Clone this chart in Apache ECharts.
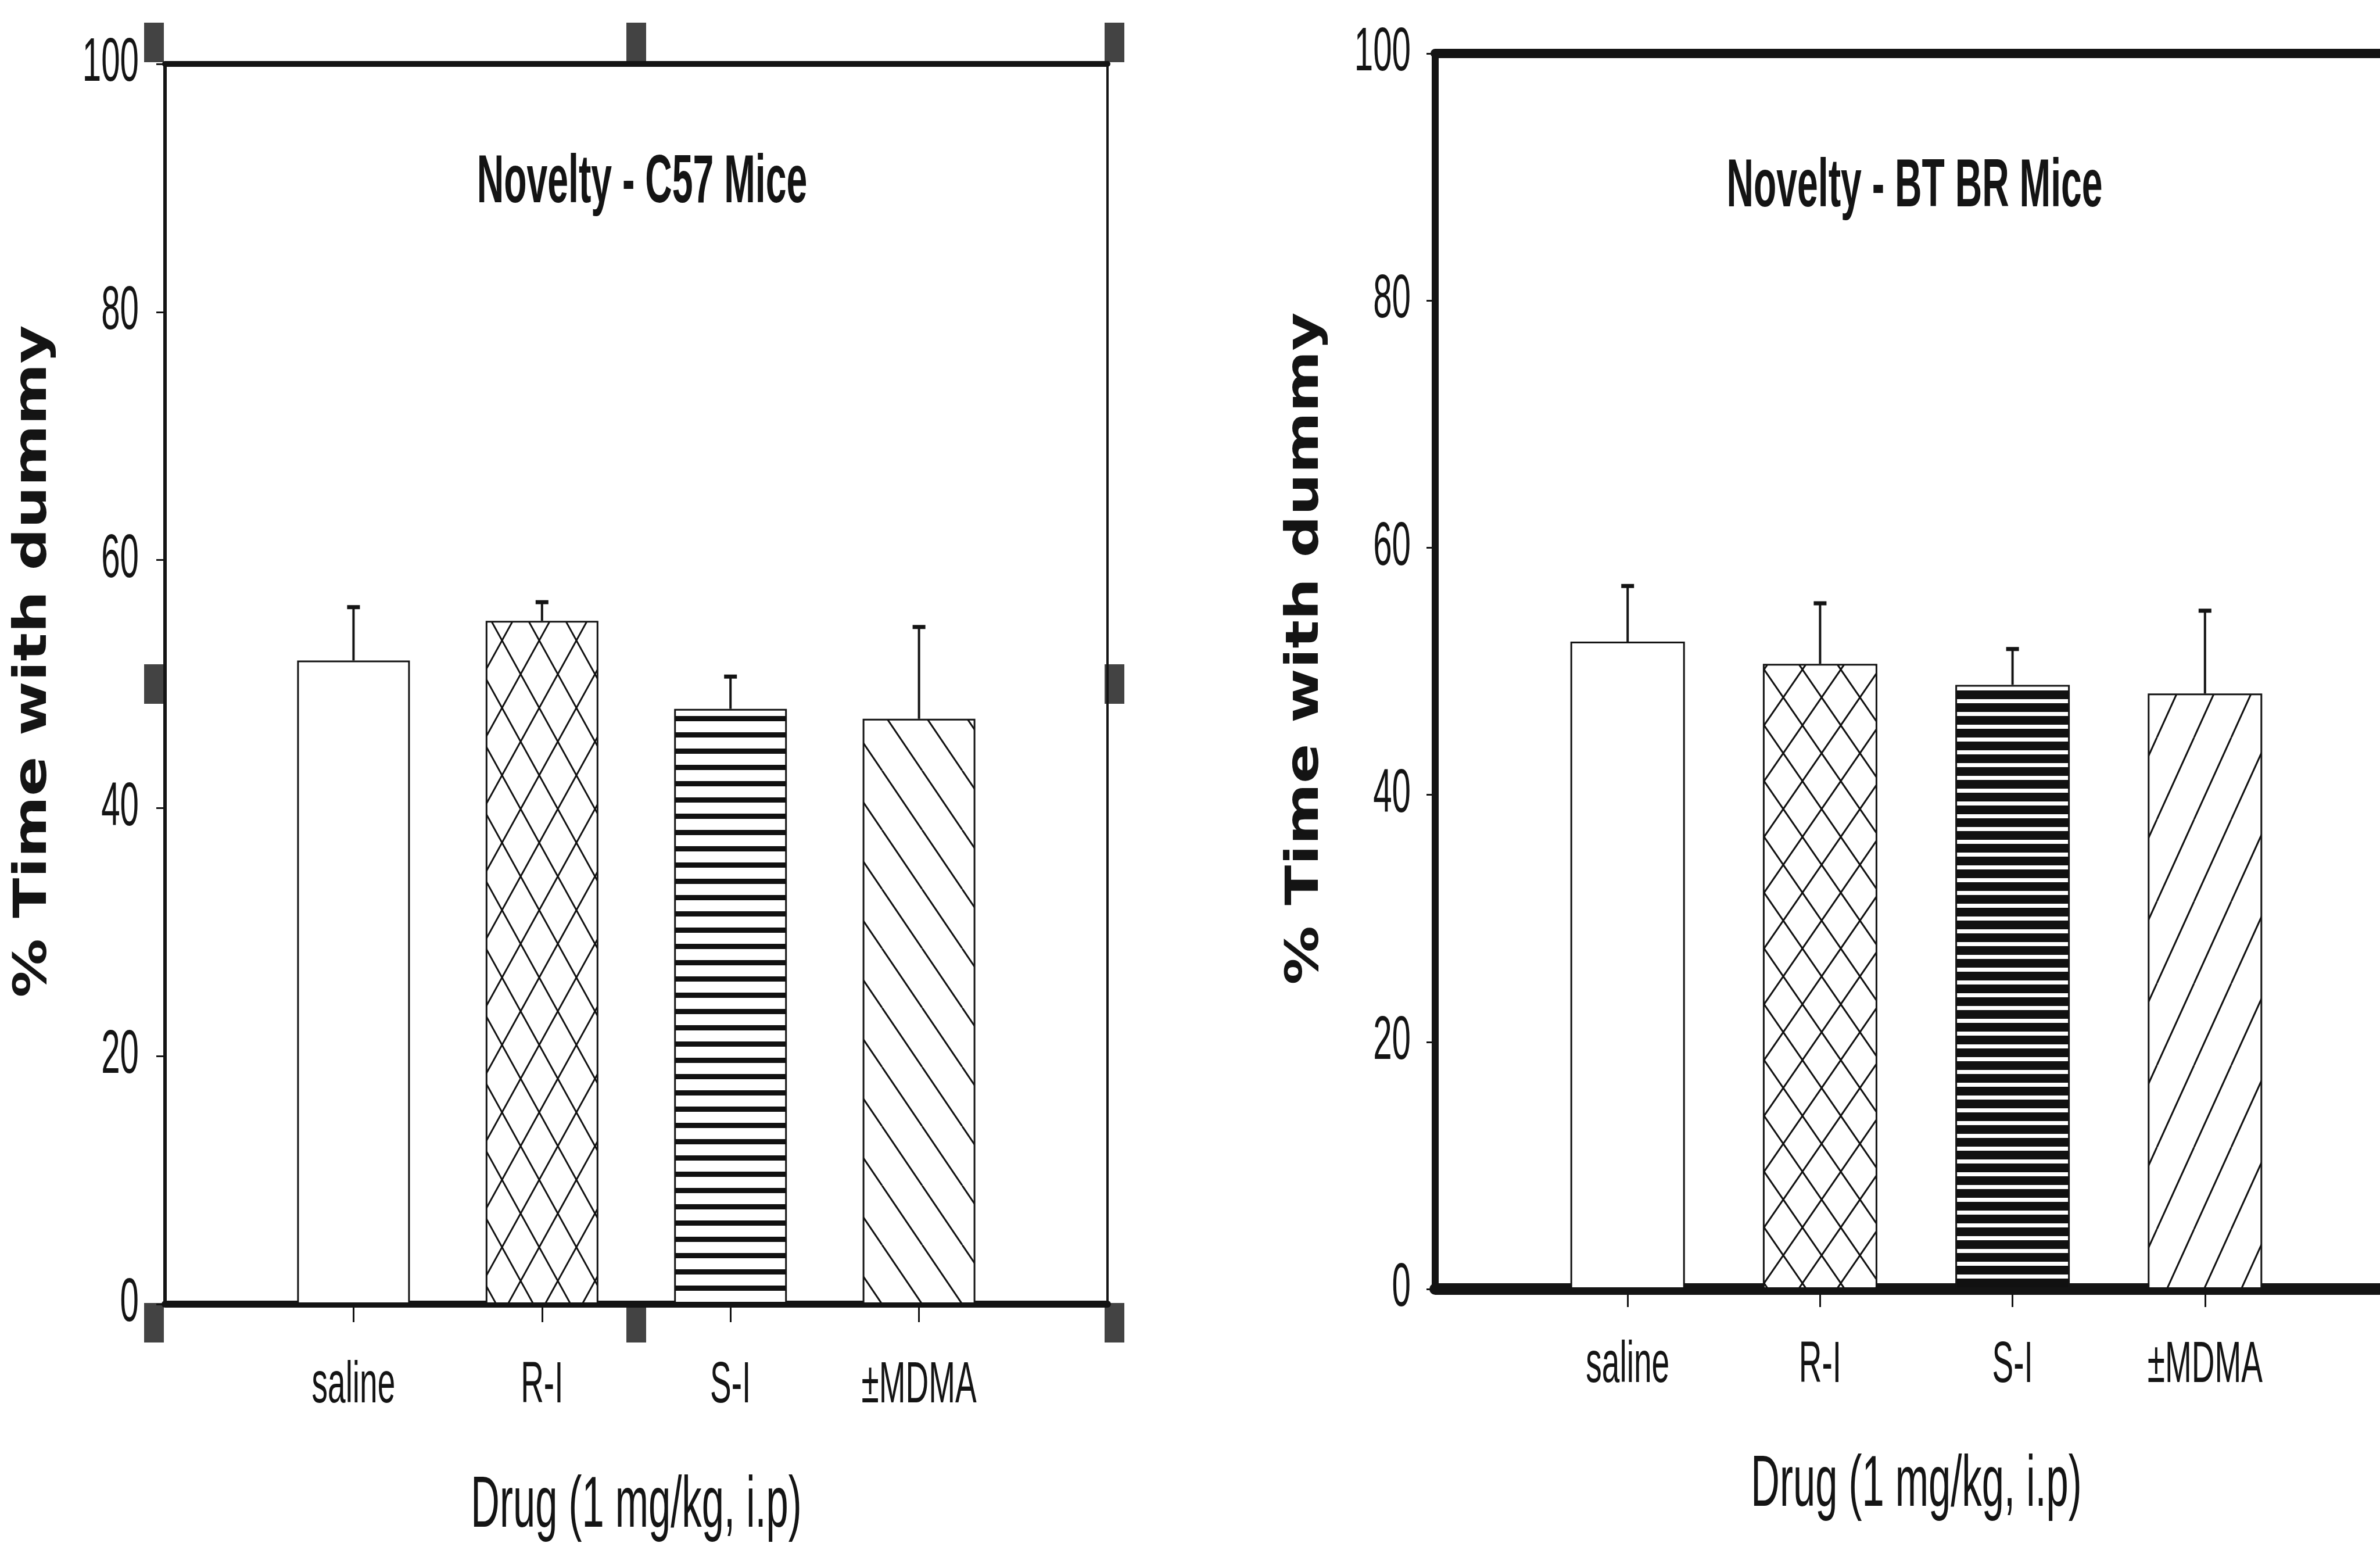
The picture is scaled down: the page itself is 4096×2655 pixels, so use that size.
<!DOCTYPE html>
<html>
<head>
<meta charset="utf-8">
<script src="https://cdn.jsdelivr.net/npm/echarts@6/dist/echarts.min.js"></script>
<style>
  html, body { margin: 0; padding: 0; background: #fff; }
  #chart { width: 4096px; height: 2655px; }
</style>
</head>
<body>
<div id="chart"></div>
<script>
// ---- data ----
const categories = ['', 'saline', 'R-I', 'S-I', '±MDMA', ''];
const yTicks = [0, 20, 40, 60, 80, 100];

const c57Title = 'Novelty - C57 Mice';
const c57Mean = [null, 51.9, 55.1, 48.0, 47.2, null];
const c57Sem  = [null, 4.3, 1.5, 2.6, 7.4, null];

const btbrTitle = 'Novelty - BT BR Mice';
const btbrMean = [null, 52.4, 50.6, 48.9, 48.2, null];
const btbrSem  = [null, 4.5, 4.9, 2.9, 6.7, null];

const yName = '% Time with dummy';
const xName = 'Drug (1 mg/kg, i.p)';

// ---- fill patterns ----
function pattern(w, h, draw) {
  const c = document.createElement('canvas');
  c.width = w; c.height = h;
  const ctx = c.getContext('2d');
  ctx.fillStyle = '#fff';
  ctx.fillRect(0, 0, w, h);
  ctx.strokeStyle = '#111';
  ctx.fillStyle = '#111';
  ctx.lineWidth = 3;
  draw(ctx, w, h);
  return { image: c, repeat: 'repeat' };
}
function back(ctx, w, h) {           // "\" lines
  ctx.beginPath();
  for (const k of [-w, 0, w]) { ctx.moveTo(k, 0); ctx.lineTo(k + w, h); }
  ctx.stroke();
}
function fwd(ctx, w, h) {            // "/" lines
  ctx.beginPath();
  for (const k of [-w, 0, w]) { ctx.moveTo(k + w, 0); ctx.lineTo(k, h); }
  ctx.stroke();
}
function lattice(w, h) { return pattern(w, h, (ctx) => { back(ctx, w, h); fwd(ctx, w, h); }); }
function stripes(period, thick) { return pattern(8, period, (ctx, w) => ctx.fillRect(0, 0, w, thick)); }

const leftFills = ['#fff', '#fff', lattice(64, 116), stripes(28, 9), pattern(69, 102, back), '#fff'];
const rightFills = ['#fff', '#fff', lattice(66, 96), stripes(22, 15), pattern(64, 141, fwd), '#fff'];

// ---- shared styles ----
const FONT = "'Liberation Sans', Arial, sans-serif";
const INK = '#141414';

function barData(means, fills) {
  return means.map((v, i) => v == null ? '-' : { value: v, itemStyle: { color: fills[i] } });
}
function errData(means, sems) {
  const out = [];
  means.forEach((v, i) => { if (v != null) out.push([i, v, v + sems[i]]); });
  return out;
}
function renderErr(params, api) {
  const base = api.coord([api.value(0), api.value(1)]);
  const top = api.coord([api.value(0), api.value(2)]);
  return {
    type: 'group',
    children: [
      { type: 'line', shape: { x1: base[0], y1: base[1], x2: top[0], y2: top[1] },
        style: { stroke: INK, lineWidth: 4 } },
      { type: 'line', shape: { x1: top[0] - 11, y1: top[1], x2: top[0] + 11, y2: top[1] },
        style: { stroke: INK, lineWidth: 7 } }
    ]
  };
}

function catAxis(gridIndex, frameWidth, margin, nameGap) {
  return {
    type: 'category', gridIndex, data: categories, boundaryGap: false,
    name: xName, nameLocation: 'middle', nameGap,
    nameTextStyle: { fontFamily: FONT, fontSize: 125, color: INK },
    axisLine: { lineStyle: { color: INK, width: frameWidth } },
    axisTick: { show: true, length: 31, lineStyle: { color: INK, width: 3 },
      interval: (i) => i > 0 && i < categories.length - 1 },
    axisLabel: { fontFamily: FONT, fontSize: 100, color: INK, margin,
      interval: 0 },
    splitLine: { show: false }
  };
}
function valAxis(gridIndex, frameWidth, margin, nameGap) {
  return {
    type: 'value', gridIndex, min: yTicks[0], max: yTicks[yTicks.length - 1],
    interval: yTicks[1] - yTicks[0],
    name: yName, nameLocation: 'middle', nameGap,
    nameTextStyle: { fontFamily: 'DejaVu Sans, sans-serif', fontWeight: 'bold', fontSize: 78, color: INK },
    axisLine: { show: true, lineStyle: { color: INK, width: frameWidth } },
    axisTick: { show: true, length: 15, lineStyle: { color: INK, width: 3 } },
    axisLabel: { fontFamily: FONT, fontSize: 106, color: INK, margin },
    splitLine: { show: false }
  };
}
// frame edges drawn as extra, label-free axes
function frameX(gridIndex, width) {
  return { type: 'value', gridIndex, position: 'top', min: 0, max: 1,
    axisLine: { show: true, onZero: false, lineStyle: { color: INK, width } },
    axisTick: { show: false }, axisLabel: { show: false }, splitLine: { show: false } };
}
function frameY(gridIndex, width) {
  return { type: 'value', gridIndex, position: 'right', min: 0, max: 100,
    axisLine: { show: true, onZero: false, lineStyle: { color: INK, width } },
    axisTick: { show: false }, axisLabel: { show: false }, splitLine: { show: false } };
}

// heavy corner / mid markers around the C57 frame
const markerPos = [
  [0, 100, -19, -37], [0.5, 100, 0, -37], [1, 100, 12, -37],
  [0, 50, -19, 0], [1, 50, 12, 0],
  [0, 0, -19, 32], [0.5, 0, 0, 32], [1, 0, 12, 32]
];

const option = {
  backgroundColor: '#fff',
  animation: false,
  title: [
    { text: c57Title, left: 1100, top: 252, textAlign: 'center',
      textStyle: { fontFamily: FONT, fontWeight: 'bold', fontSize: 117, color: INK } },
    { text: btbrTitle, left: 3290, top: 259, textAlign: 'center',
      textStyle: { fontFamily: FONT, fontWeight: 'bold', fontSize: 117, color: INK } }
  ],
  grid: [
    { left: 284, top: 110, width: 1622, height: 2134, containLabel: false, outerBoundsMode: 'none' },
    { left: 2470, top: 92, width: 1656, height: 2126, containLabel: false, outerBoundsMode: 'none' }
  ],
  xAxis: [
    catAxis(0, 12, 91, 286),
    frameX(0, 10),
    catAxis(1, 20, 82, 276),
    frameX(1, 16)
  ],
  yAxis: [
    valAxis(0, 6, 45, 157),
    frameY(0, 4),
    valAxis(1, 12, 42, 171)
  ],
  series: [
    { type: 'bar', xAxisIndex: 0, yAxisIndex: 0, barWidth: 194,
      data: barData(c57Mean, leftFills),
      itemStyle: { borderColor: INK, borderWidth: 3 } },
    { type: 'custom', xAxisIndex: 0, yAxisIndex: 0, renderItem: renderErr,
      data: errData(c57Mean, c57Sem), z: 5 },
    { type: 'scatter', xAxisIndex: 1, yAxisIndex: 1, clip: false, silent: true,
      symbol: 'rect', symbolSize: [34, 68], itemStyle: { color: INK },
      data: markerPos.map(p => ({ value: [p[0], p[1]], symbolOffset: [p[2], p[3]] })) },
    { type: 'bar', xAxisIndex: 2, yAxisIndex: 2, barWidth: 197,
      data: barData(btbrMean, rightFills),
      itemStyle: { borderColor: INK, borderWidth: 3 } },
    { type: 'custom', xAxisIndex: 2, yAxisIndex: 2, renderItem: renderErr,
      data: errData(btbrMean, btbrSem), z: 5 }
  ]
};

const chart = echarts.init(document.getElementById('chart'), null, { renderer: 'canvas' });
chart.setOption(option);

// The lettering is set in a narrow, tall face: squeeze horizontal text,
// and open up the rotated axis titles along their run.
function reshapeText(ch, squeeze, stretch) {
  const zr = ch.getZr();
  const visit = (el) => {
    if (el.type !== 'text') return;
    const rect = el.getBoundingRect();
    const rotated = Math.abs(el.rotation || 0) > 0.01;
    const align = el.style && el.style.align;
    el.originX = (!rotated && align === 'right') ? rect.x + rect.width : rect.x + rect.width / 2;
    el.originY = rect.y + rect.height / 2;
    el.scaleX = rotated ? stretch : squeeze;
    el.markRedraw();
  };
  zr.storage.getRoots().forEach((root) => {
    visit(root);
    if (root.traverse) root.traverse(visit);
  });
  zr.refresh();
}
reshapeText(chart, 0.55, 1.3);
</script>
</body>
</html>
